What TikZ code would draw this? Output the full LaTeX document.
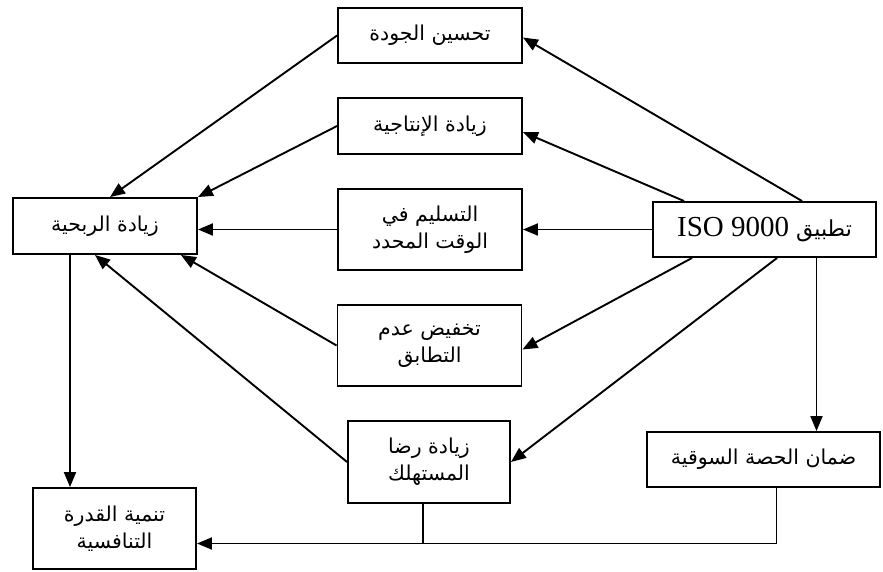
\documentclass[tikz,border=0pt]{standalone}
\usepackage{fontspec}
\setmainfont{Liberation Serif}
\newfontfamily\arabicfont[Script=Arabic]{DejaVu Sans}
\TeXXeTstate=1
\usetikzlibrary{arrows.meta,positioning,calc}
\newcommand{\rl}[1]{\beginR #1\endR}
\tikzset{
  every node/.style={font=\arabicfont\fontsize{20.5}{27}\selectfont},
  box/.style={draw, rectangle, align=center, line width=1.9pt, inner sep=0pt},
  arrow/.style={-{Triangle[length=15pt,width=12pt]}, line width=1.9pt},
  link/.style={line width=1.9pt}
}
\begin{document}
\begin{tikzpicture}[
    x=1pt, y=-1pt, % image-like coordinates
    wide/.style={box, minimum width=184pt},
    small/.style={box, minimum width=163pt}
]
\useasboundingbox (0,0) rectangle (883,572);

% 1. Source
\node[box, minimum width=223pt, minimum height=55pt, font=\arabicfont\fontsize{22}{30}\selectfont] (iso) at (764.5,229.5)
  {\beginR تطبيق \beginL{\rmfamily\fontsize{29}{30}\selectfont ISO 9000}\endL\endR};

% 2. Middle column
\node[wide, minimum height=55pt] (quality) at (430,35.5) {\rl{تحسين الجودة}};
\node[wide, minimum height=56pt] (prod) at (430,126) {\rl{زيادة الإنتاجية}};
\node[wide, minimum height=81pt] (deliv) at (430,229.5) {\rl{التسليم في}\\\rl{الوقت المحدد}};
\node[wide, minimum height=81pt] (nonconf) at (429.5,345.5) {\rl{تخفيض عدم}\\\rl{التطابق}};
\node[box, minimum width=162pt, minimum height=82pt] (satis) at (429,462) {\rl{زيادة رضا}\\\rl{المستهلك}};
\node[box, minimum width=233pt, minimum height=55pt] (market) at (763.5,459.5) {\rl{ضمان الحصة السوقية}};

% 3. Left column
\node[wide, minimum height=56pt] (profit) at (105,226) {\rl{زيادة الربحية}};
\node[small, minimum height=81pt] (compet) at (114.5,528.5) {\rl{تنمية القدرة}\\\rl{التنافسية}};

% 4. Connections from ISO
\draw[arrow] ([xshift=150pt]iso.north west) -- ([yshift=-2pt]quality.east);
\draw[arrow] ([xshift=32pt]iso.north west) -- ([yshift=-6pt]prod.east);
\draw[arrow] (iso.west) -- (deliv.east);
\draw[arrow] ([xshift=40pt]iso.south west) -- ([yshift=-4pt]nonconf.east);
\draw[arrow] ([xshift=125pt]iso.south west) -- (satis.east);
\draw[arrow] ([xshift=52pt]iso.south) coordinate (m) -- (m |- market.north);

% 5. Into profit
\draw[arrow] (quality.west) -- ([xshift=5pt]profit.north);
\draw[arrow] (prod.west) -- (profit.north east);
\draw[arrow] (deliv.west) -- (deliv.west -| profit.east);
\draw[arrow] (nonconf.west) -- ([xshift=-17pt]profit.south east);
\draw[arrow] (satis.west) -- ([xshift=-10pt]profit.south);

% 6. Into competitiveness
\draw[arrow] ([xshift=-35pt]profit.south) coordinate (p) -- (p |- compet.north);
\coordinate (join) at ([yshift=-15pt]compet.east);
\draw[arrow] ([xshift=13pt]market.south) |- (join);
\draw[link] ([xshift=-6pt]satis.south) coordinate (s) -- (s |- join);

\end{tikzpicture}
\end{document}
